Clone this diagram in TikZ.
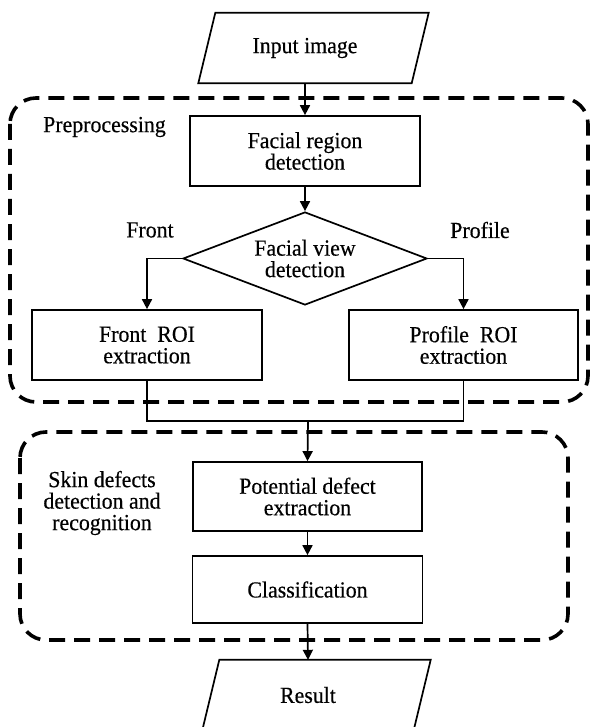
\documentclass[tikz,border=0pt]{standalone}
\usepackage{fontspec}
\setmainfont{Liberation Serif}[FakeStretch=0.95,FakeBold=0.4]
\usetikzlibrary{shapes.geometric,arrows.meta}
\begin{document}
\begin{tikzpicture}[x=1pt,y=-1pt,
  txt/.style={font=\fontsize{23}{21.5}\selectfont, align=center, inner sep=0pt},
  procbox/.style={txt, draw, line width=1.7pt, rectangle},
  iobox/.style={txt, rectangle, minimum width=196pt, minimum height=70pt},
  decbox/.style={txt, draw, line width=1.7pt, diamond, aspect=2.62, minimum width=244pt, minimum height=93pt},
  conn/.style={line width=1.7pt},
  arr/.style={conn, -{Triangle[length=10pt,width=10pt]}},
  group/.style={line width=3.6pt, dash pattern=on 16pt off 9pt, rounded corners=26pt}
]
\useasboundingbox (0,0) rectangle (591,727);

% groups
\draw[group] (10,98) rectangle (588,402);
\draw[group] (20,432) rectangle (568,640);

% nodes
\node[iobox] (in) at (305,48) {Input image};
\draw[conn] ([xshift=8.5pt]in.north west) -- ([xshift=25.5pt]in.north east)
  -- ([xshift=8.5pt]in.south east) -- ([xshift=-8.5pt]in.south west) -- cycle;

\node[procbox, minimum width=230pt, minimum height=70pt] (fr) at (305,151) {Facial region\\detection};
\node[decbox] (dv) at (305,258.5) {Facial view\\detection};
\node[procbox, minimum width=230pt, minimum height=70pt] (froi) at (147,345) {Front~~ROI\\extraction};
\node[procbox, minimum width=229pt, minimum height=70pt] (proi) at (463.5,345) {Profile~~ROI\\extraction};
\node[procbox, minimum width=229pt, minimum height=69pt] (pot) at (307.5,496.5) {Potential defect\\extraction};
\node[procbox, minimum width=230pt, minimum height=67pt] (cls) at (307.5,589.5) {Classification};

\node[iobox, minimum width=194pt] (res) at (308,695) {Result};
\draw[conn] ([xshift=8.5pt]res.north west) -- ([xshift=25.5pt]res.north east)
  -- ([xshift=8.5pt]res.south east) -- ([xshift=-8.5pt]res.south west) -- cycle;

% labels
\node[txt, anchor=west] (lpre) at (43,127) {Preprocessing};
\node[txt] (lfront) at (150,230) {Front};
\node[txt] (lprof) at (480,230) {Profile};
\node[txt] (lskin) at (102,503) {Skin defects\\detection and\\recognition};

% connectors
\coordinate (m) at (308,421);
\draw[arr] (in.south) -- (fr.north);
\draw[arr] (fr.south) -- (dv.north);
\draw[arr] (dv.west) -| (froi.north);
\draw[arr] (dv.east) -| (proi.north);
\draw[conn] (froi.south) |- (m) -| (proi.south);
\draw[arr] (m) -- (pot.north);
\draw[arr] (pot.south) -- (cls.north);
\draw[arr] (cls.south) -- (res.north);
\end{tikzpicture}
\end{document}
